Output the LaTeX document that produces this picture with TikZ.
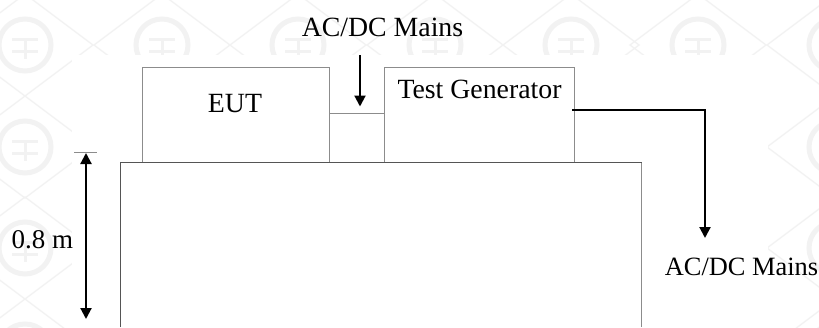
\documentclass[tikz,border=0pt]{standalone}
\usepackage{fontspec}
\setmainfont{Liberation Serif}
\usetikzlibrary{arrows.meta}
\definecolor{wm}{HTML}{F2F2F2}
\definecolor{boxgray}{HTML}{8C8C8C}
\definecolor{edge}{HTML}{555555}
\tikzset{
  boxline/.style={draw=boxgray,line width=0.9pt},
  tableline/.style={draw=edge,line width=0.9pt},
  thick arrow/.style={draw=black,line width=2.1pt,-{Triangle[width=11pt,length=11pt]}},
  both arrow/.style={draw=black,line width=2.1pt,{Triangle[width=11pt,length=11pt]}-{Triangle[width=11pt,length=11pt]}},
  label/.style={inner sep=0pt,text=black,font=\fontsize{27.8}{30}\selectfont},
  wmline/.style={draw=wm,line width=1.3pt}
}
\begin{document}
\begin{tikzpicture}[x=1pt,y=-1pt]
\useasboundingbox (0,0) rectangle (819,327);
\begin{scope}
\clip (0,0) rectangle (819,327);
\fill[white] (0,0) rectangle (819,327);
% faint watermark
\foreach \cx in {25,162,298,435,571,698,835}{
  \foreach \cy in {-57,45,147,248,350}{
    \draw[wmline] (\cx-68,\cy) -- (\cx,\cy-51) -- (\cx+68,\cy) -- (\cx,\cy+51) -- cycle;
    \draw[draw=wm,line width=5pt] (\cx,\cy) circle[radius=26];
    \draw[draw=wm,line width=3pt] (\cx-13,\cy-6) -- (\cx+13,\cy-6) (\cx-13,\cy+6) -- (\cx+13,\cy+6) (\cx,\cy-6) -- (\cx,\cy+14);
  }
}
\fill[white] (72,55) rectangle (768,335);
\end{scope}
% boxes
\coordinate (tablel) at (120.5,327);
\coordinate (tabletl) at (120.5,162);
\coordinate (tabletr) at (641.5,162);
\coordinate (tabler) at (641.5,327);
\draw[tableline] (tablel) -- (tabletl) -- (tabletr);
\draw[boxline] (tabletr) -- (tabler);
\node[boxline,minimum width=187.5pt,minimum height=95pt,inner sep=0pt,anchor=north west] (eut) at (141.5,67) {};
\node[boxline,minimum width=190pt,minimum height=95pt,inner sep=0pt,anchor=north west] (gen) at (383.5,67) {};
\draw[tableline] (tabletl) -- (tabletr);
\node[label] (eutlabel) at (235,104) {EUT};
\node[label] (genlabel) at (479.5,89) {Test Generator};
\node[label] (top) at (382.5,27) {AC/DC Mains};
\node[label,font=\fontsize{26.4}{30}\selectfont] (right) at (741.5,267) {AC/DC Mains};
\node[label,font=\fontsize{27}{30}\selectfont] (height) at (42.5,240) {0.8 m};
% link between boxes
\draw[boxline] (eut.east |- 0,113) -- (gen.west |- 0,113);
% mains arrow from top
\coordinate (a1) at (360,55);
\coordinate (a2) at (360,106.5);
\draw[thick arrow] (a1) -- (a2);
% generator to mains
\coordinate (b0) at (572,110);
\coordinate (b1) at (705,110);
\coordinate (b2) at (705,238);
\draw[thick arrow] (b0) -- (b1) -- (b2);
% height
\coordinate (d1) at (86,153);
\coordinate (d2) at (86,319);
\coordinate (t1) at (74,152.5);
\coordinate (t2) at (97,152.5);
\draw[draw=boxgray,line width=0.6pt] (t1) -- (t2);
\draw[both arrow] (d1) -- (d2);
\end{tikzpicture}
\end{document}
